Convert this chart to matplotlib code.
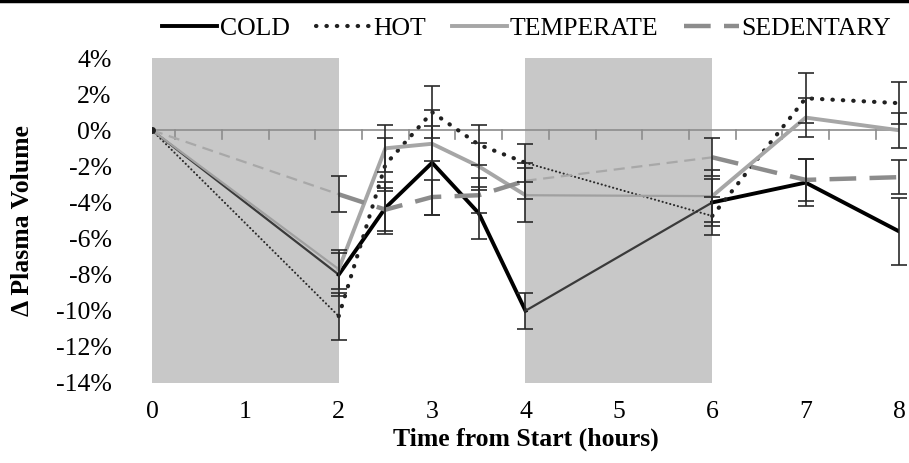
import numpy as np
import matplotlib
matplotlib.use('Agg')
import matplotlib.pyplot as plt
from matplotlib.lines import Line2D
from matplotlib.ticker import FuncFormatter

plt.rcParams['font.family'] = ['Liberation Serif', 'DejaVu Serif']

times = [0, 2, 2.5, 3, 3.5, 4, 6, 7, 8]
cold = [0, -8.0, -4.3, -1.8, -4.6, -10.0, -4.0, -2.9, -5.6]
cold_err = [0, 1.2, 1.45, 2.9, 1.45, 1.0, 1.3, 1.3, 1.85]
hot = [0, -10.3, -1.9, 1.0, -0.8, -1.8, -4.75, 1.77, 1.5]
hot_err = [0, 1.3, 1.45, 1.45, 1.1, 1.05, 1.05, 1.38, 1.15]
temperate = [0, -7.7, -1.0, -0.75, -2.0, -3.6, -3.65, 0.7, 0.0]
temp_err = [0, 1.07, 1.3, 0.97, 1.3, 1.5, 1.43, 1.1, 0.97]
sedentary = [0, -3.55, -4.4, -3.7, -3.6, -2.8, -1.5, -2.75, -2.6]
sed_err = [0, 1.0, 1.2, 0.97, 0.97, 1.0, 1.05, 1.18, 0.93]

exercise = [(0, 2), (4, 6)]
xticks = [0, 1, 2, 3, 4, 5, 6, 7, 8]
yticks = [4, 2, 0, -2, -4, -6, -8, -10, -12, -14]

fig = plt.figure(figsize=(9.09, 4.63), dpi=100)
ax = fig.add_axes([0.1672, 0.1728, 0.8218, 0.7019])
ax.set_xlim(0, 8)
ax.set_ylim(-14, 4)

for a, b in exercise:
    ax.axvspan(a, b, color='#c8c8c8', lw=0, zorder=0)

# zero line with little tick marks hanging below it
ax.axhline(0, color='#8c8c8c', lw=1.2, zorder=1)
for t in np.arange(0.25, 8, 0.5):
    ax.plot([t, t], [0, -0.5], color='#8c8c8c', lw=1.2, zorder=1)

# (thin style, thick style) for each series
styles = {
    'COLD': (dict(color='#3a3a3a', lw=1.6, ls='-'),
             dict(color='black', lw=2.8, ls='-')),
    'HOT': (dict(color='#2a2a2a', lw=1.5, ls=(0, (0.1, 1.8)), dash_capstyle='round'),
            dict(color='#202020', lw=3.0, ls=(0, (0.1, 2.4)), dash_capstyle='round')),
    'TEMPERATE': (dict(color='#a0a0a0', lw=1.6, ls='-'),
                  dict(color='#a6a6a6', lw=2.8, ls='-')),
    'SEDENTARY': (dict(color='#a8a8a8', lw=1.6, ls=(0, (5, 3))),
                  dict(color='#8c8c8c', lw=3.2, ls=(0, (6, 3)))),
}
series = [('COLD', cold, cold_err), ('HOT', hot, hot_err),
          ('TEMPERATE', temperate, temp_err), ('SEDENTARY', sedentary, sed_err)]

# thin during exercise bouts, thick during rest
pieces = [(0, 2, 0), (1, 6, 1), (5, 7, 0), (6, 9, 1)]
for name, y, err in series:
    for i0, i1, k in pieces:
        ax.plot(times[i0:i1], y[i0:i1], zorder=3, **styles[name][k])
    ax.errorbar(times[1:], y[1:], yerr=err[1:], fmt='none', ecolor='#2a2a2a',
                elinewidth=1.2, capsize=6, capthick=1.2, zorder=4, clip_on=False)

ax.plot([0], [0], 'o', color='#222222', ms=4, zorder=5)

for s in ax.spines.values():
    s.set_visible(False)
ax.set_xticks(xticks)
ax.set_yticks(yticks)
ax.yaxis.set_major_formatter(FuncFormatter(lambda v, p: '%d%%' % v))
ax.tick_params(axis='both', length=0, labelsize=18.5)
ax.tick_params(axis='y', pad=29)
ax.tick_params(axis='x', pad=13)
ax.set_xlabel('Time from Start (hours)', fontsize=18.5, fontweight='bold', labelpad=3)
ax.set_ylabel('Δ Plasma Volume', fontsize=18.5, fontweight='bold', labelpad=16)

handles = [Line2D([], [], **styles[n][1]) for n, _, _ in series]
fig.legend(handles, [n for n, _, _ in series], loc='upper right',
           bbox_to_anchor=(1.006, 1.014), ncol=4, frameon=False, fontsize=18.5,
           handlelength=2.15, handletextpad=0.1, columnspacing=1.0)

fig.add_artist(Line2D([0, 1], [0.997, 0.997], transform=fig.transFigure,
                      color='black', lw=2.5))

fig.savefig('out.png', dpi=100)
